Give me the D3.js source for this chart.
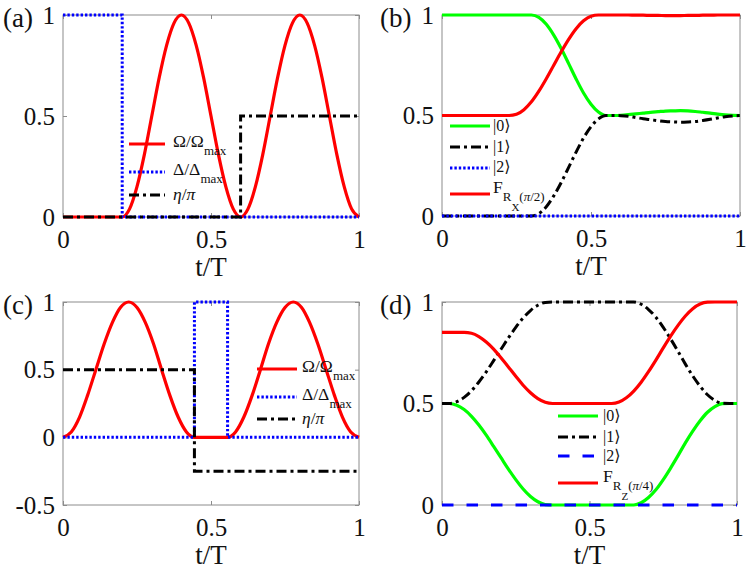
<!DOCTYPE html>
<html>
<head>
<meta charset="utf-8">
<script src="https://cdn.jsdelivr.net/npm/d3@7"></script>
<style>
body { margin: 0; background: #fff; }
svg text { font-family: "Liberation Serif", "Times New Roman", "DejaVu Serif", serif; }
</style>
</head>
<body>
<script>
(function(){

//time samples for the population panels (b) and (d)
var tGrid = [0,0.025,0.05,0.075,0.1,0.125,0.15,0.175,0.2,0.225,0.25,0.275,0.3,0.325,0.35,0.375,0.4,0.425,0.45,0.475,
    0.5,0.525,0.55,0.575,0.6,0.625,0.65,0.675,0.7,0.725,0.75,0.775,0.8,0.825,0.85,0.875,0.9,0.925,0.95,0.975,1];

//panel (a): pulse shapes
var tOmegaA = [0,0.2,0.225,0.25,0.275,0.3,0.325,0.35,0.375,0.4,0.425,0.45,0.475,0.5,0.525,0.55,0.575,0.6,
    0.625,0.65,0.675,0.7,0.725,0.75,0.775,0.8,0.825,0.85,0.875,0.9,0.925,0.95,0.975,1];
var omegaA = [0,0,0.04,0.15,0.31,0.5,0.69,0.85,0.96,1,0.96,0.85,0.69,0.5,0.31,0.15,0.04,0,
    0.04,0.15,0.31,0.5,0.69,0.85,0.96,1,0.96,0.85,0.69,0.5,0.31,0.15,0.04,0];
var tDeltaA = [0,0.2,0.2,1], deltaA = [1,1,0,0];
var tEtaA = [0,0.6,0.6,1], etaA = [0,0,0.5,0.5];

//panel (b): populations and fidelity for R_X(pi/2)
var pop0B = [1,1,1,1,1,1,1,1,1,1,1,1,1,0.988,0.954,0.9,0.833,0.758,0.682,0.612,0.556,0.517,0.5,0.5,
    0.501,0.504,0.508,0.512,0.516,0.519,0.522,0.523,0.524,0.523,0.52,0.516,0.512,0.507,0.503,0.501,0.5];
var pop1B = [0,0,0,0,0,0,0,0,0,0,0,0,0,0.012,0.046,0.1,0.167,0.242,0.318,0.388,0.444,0.483,0.5,0.5,
    0.499,0.496,0.49,0.484,0.479,0.474,0.47,0.468,0.467,0.468,0.47,0.475,0.481,0.488,0.494,0.498,0.5];
var fidB = [0.5,0.5,0.5,0.5,0.5,0.5,0.5,0.5,0.5,0.5,0.506,0.529,0.568,0.621,0.683,0.75,0.817,0.879,0.932,0.971,
    0.994,1,1,1,1,1,0.999,0.999,0.998,0.998,0.997,0.997,0.997,0.998,0.998,0.999,0.999,1,1,1,1];
var tFlat = [0,1], pop2 = [0,0];

//panel (c): pulse shapes
var tOmegaC = [0,0.028,0.056,0.083,0.111,0.139,0.167,0.194,0.222,0.25,0.278,0.306,0.333,0.361,0.389,0.417,0.444,
    0.556,0.583,0.611,0.639,0.667,0.694,0.722,0.75,0.778,0.806,0.833,0.861,0.889,0.917,0.944,0.972,1];
var omegaC = [0,0.04,0.15,0.31,0.5,0.69,0.85,0.96,1,0.96,0.85,0.69,0.5,0.31,0.15,0.04,0,
    0,0.04,0.15,0.31,0.5,0.69,0.85,0.96,1,0.96,0.85,0.69,0.5,0.31,0.15,0.04,0];
var tDeltaC = [0,0.444,0.444,0.556,0.556,1], deltaC = [0,0,1,1,0,0];
var tEtaC = [0,0.444,0.444,1], etaC = [0.5,0.5,-0.25,-0.25];

//panel (d): populations and fidelity for R_Z(pi/4)
var pop0D = [0.5,0.5,0.491,0.47,0.437,0.394,0.344,0.289,0.233,0.177,0.125,0.079,0.042,0.016,0.002,
    0,0,0,0,0,0,0,0,0,0,0,0,0.011,0.037,0.075,0.125,0.182,0.243,0.306,0.364,0.415,0.457,0.485,0.499,0.5,0.5];
var pop1D = [0.5,0.5,0.509,0.53,0.563,0.606,0.656,0.711,0.767,0.823,0.875,0.921,0.958,0.984,0.998,
    1,1,1,1,1,1,1,1,1,1,1,1,0.989,0.963,0.925,0.875,0.818,0.757,0.694,0.636,0.585,0.543,0.515,0.501,0.5,0.5];
var fidD = [0.85,0.85,0.85,0.85,0.846,0.83,0.803,0.768,0.725,0.68,0.634,0.59,0.553,0.524,0.506,
    0.5,0.5,0.5,0.5,0.5,0.5,0.5,0.5,0.5,0.507,0.528,0.561,0.605,0.657,0.714,0.774,0.832,0.885,0.931,0.967,0.99,0.999,1,1,1,1];

var xTicks = [0, 0.5, 1];
var yTicks = [0, 0.5, 1];
var yTicksC = [-0.5, 0, 0.5, 1];

var RED = "#ff0000", GREEN = "#00ff00", BLUE = "#0000ff", BLACK = "#000000";
var lineStyles = {
    solid: {w: 3.2, dash: null},
    dot: {w: 3, dash: "2.4,2"},
    dashdot: {w: 3, dash: "10,4,3,4"},
    dash: {w: 3, dash: "11.5,13"}
};
var FONT = "'Liberation Serif', 'Times New Roman', 'DejaVu Serif', serif";

function zip(t, v){
    return t.map(function(d, i){ return [d, v[i]]; });
}

var ket = "\u27E9";

var panels = [
    {name: "(a)", left: 63, top: 15, right: 359, bottom: 217, yDomain: [0, 1], yTicks: yTicks, labelX: 3,
        series: [
            {data: zip(tOmegaA, omegaA), color: RED, style: "solid", smooth: true},
            {data: zip(tDeltaA, deltaA), color: BLUE, style: "dot"},
            {data: zip(tEtaA, etaA), color: BLACK, style: "dashdot"}
        ],
        legend: {x0: 129, x1: 165, tx: 173, rows: [
            {y: 144, s: 0, base: 3, parts: [{t: "\u03A9/\u03A9"}, {t: "max", lvl: 1}]},
            {y: 172, s: 1, base: 3, parts: [{t: "\u0394/\u0394"}, {t: "max", lvl: 1}]},
            {y: 195, s: 2, base: 5, parts: [{t: "\u03B7", it: 1}, {t: "/"}, {t: "\u03C0", it: 1}]}
        ]}
    },
    {name: "(b)", left: 442, top: 15, right: 740, bottom: 216, yDomain: [0, 1], yTicks: yTicks, labelX: 380,
        series: [
            {data: zip(tGrid, pop0B), color: GREEN, style: "solid", smooth: true},
            {data: zip(tGrid, pop1B), color: BLACK, style: "dashdot", smooth: true},
            {data: zip(tFlat, pop2), color: BLUE, style: "dot"},
            {data: zip(tGrid, fidB), color: RED, style: "solid", smooth: true}
        ],
        legend: {x0: 450, x1: 490, tx: 493, rows: [
            {y: 126, s: 0, base: 5, parts: [{t: "|0" + ket, size: 16}]},
            {y: 147, s: 1, base: 5, parts: [{t: "|1" + ket, size: 16}]},
            {y: 168, s: 2, base: 4, parts: [{t: "|2" + ket, size: 16}]},
            {y: 194, s: 3, base: -1, parts: [{t: "F"}, {t: "R", lvl: 1}, {t: "X", lvl: 2}, {t: "(", lvl: 1},
                {t: "\u03C0", lvl: 1, it: 1}, {t: "/2)", lvl: 1}]}
        ]}
    },
    {name: "(c)", left: 63, top: 302, right: 359, bottom: 505, yDomain: [-0.5, 1], yTicks: yTicksC, labelX: 3,
        series: [
            {data: zip(tOmegaC, omegaC), color: RED, style: "solid", smooth: true},
            {data: zip(tDeltaC, deltaC), color: BLUE, style: "dot"},
            {data: zip(tEtaC, etaC), color: BLACK, style: "dashdot"}
        ],
        legend: {x0: 257, x1: 297, tx: 302, rows: [
            {y: 369, s: 0, base: 3, parts: [{t: "\u03A9/\u03A9"}, {t: "max", lvl: 1}]},
            {y: 397, s: 1, base: 3, parts: [{t: "\u0394/\u0394"}, {t: "max", lvl: 1}]},
            {y: 419, s: 2, base: 5, parts: [{t: "\u03B7", it: 1}, {t: "/"}, {t: "\u03C0", it: 1}]}
        ]}
    },
    {name: "(d)", left: 442, top: 302, right: 737, bottom: 505, yDomain: [0, 1], yTicks: yTicks, labelX: 380,
        series: [
            {data: zip(tGrid, pop0D), color: GREEN, style: "solid", smooth: true},
            {data: zip(tGrid, pop1D), color: BLACK, style: "dashdot", smooth: true},
            {data: zip(tFlat, pop2), color: BLUE, style: "dash"},
            {data: zip(tGrid, fidD), color: RED, style: "solid", smooth: true}
        ],
        legend: {x0: 558, x1: 598, tx: 603, rows: [
            {y: 416, s: 0, base: 5, parts: [{t: "|0" + ket, size: 16}]},
            {y: 437, s: 1, base: 5, parts: [{t: "|1" + ket, size: 16}]},
            {y: 456, s: 2, base: 4.5, parts: [{t: "|2" + ket, size: 16}]},
            {y: 483, s: 3, base: -1, parts: [{t: "F"}, {t: "R", lvl: 1}, {t: "Z", lvl: 2}, {t: "(", lvl: 1},
                {t: "\u03C0", lvl: 1, it: 1}, {t: "/4)", lvl: 1}]}
        ]}
    }
];

var levelSize = [17.5, 13, 11];
var levelShift = [0, 8, 18];

var svg = d3.select("body")
    .append("svg")
    .attr("width", 748)
    .attr("height", 571);

panels.forEach(drawPanel);

function drawPanel(p){
    var x = d3.scaleLinear().domain([0, 1]).range([p.left, p.right]);
    var y = d3.scaleLinear().domain(p.yDomain).range([p.bottom, p.top]);
    var g = svg.append("g");

    //inward ticks on all four sides
    var fmt = function(d){ return String(d); };
    var axB = g.append("g").attr("transform", "translate(0," + p.bottom + ")")
        .call(d3.axisBottom(x).tickValues(xTicks).tickFormat(fmt).tickSizeInner(-4).tickSizeOuter(0).tickPadding(13));
    var axL = g.append("g").attr("transform", "translate(" + p.left + ",0)")
        .call(d3.axisLeft(y).tickValues(p.yTicks).tickFormat(fmt).tickSizeInner(-4).tickSizeOuter(0).tickPadding(8));
    var axT = g.append("g").attr("transform", "translate(0," + p.top + ")")
        .call(d3.axisTop(x).tickValues(xTicks).tickFormat("").tickSizeInner(-4).tickSizeOuter(0));
    var axR = g.append("g").attr("transform", "translate(" + p.right + ",0)")
        .call(d3.axisRight(y).tickValues(p.yTicks).tickFormat("").tickSizeInner(-4).tickSizeOuter(0));

    [axB, axL, axT, axR].forEach(function(a){
        a.attr("font-family", null).attr("font-size", null);
        a.select(".domain").remove();
        a.selectAll(".tick line").attr("stroke", "#8c8c8c");
        a.selectAll("text")
            .attr("fill", "#111")
            .attr("font-family", FONT)
            .attr("font-size", 25);
    });

    //axes box
    g.append("rect")
        .attr("x", p.left).attr("y", p.top)
        .attr("width", p.right - p.left).attr("height", p.bottom - p.top)
        .attr("fill", "none").attr("stroke", "#8c8c8c").attr("stroke-width", 1);

    //data lines
    p.series.forEach(function(s){
        var line = d3.line()
            .x(function(d){ return x(d[0]); })
            .y(function(d){ return y(d[1]); })
            .curve(s.smooth ? d3.curveMonotoneX : d3.curveLinear);
        var st = lineStyles[s.style];
        g.append("path")
            .datum(s.data)
            .attr("d", line)
            .attr("fill", "none")
            .attr("stroke", s.color)
            .attr("stroke-width", st.w)
            .attr("stroke-dasharray", st.dash);
    });

    //legend (no frame)
    var lg = p.legend;
    lg.rows.forEach(function(r){
        var s = p.series[r.s], st = lineStyles[s.style];
        g.append("line")
            .attr("x1", lg.x0).attr("x2", lg.x1)
            .attr("y1", r.y).attr("y2", r.y)
            .attr("stroke", s.color)
            .attr("stroke-width", st.w)
            .attr("stroke-dasharray", st.dash);
        var text = g.append("text")
            .attr("x", lg.tx)
            .attr("y", r.y + r.base)
            .attr("font-family", FONT)
            .attr("fill", "#111");
        r.parts.forEach(function(pt){
            var lvl = pt.lvl || 0;
            var ts = text.append("tspan")
                .attr("y", r.y + r.base + levelShift[lvl])
                .attr("font-size", pt.size || levelSize[lvl])
                .text(pt.t);
            if (pt.it) ts.attr("font-style", "italic");
        });
    });

    //x label and panel tag
    g.append("text")
        .attr("x", (p.left + p.right) / 2)
        .attr("y", p.bottom + 59)
        .attr("text-anchor", "middle")
        .attr("font-family", FONT)
        .attr("font-size", 27)
        .attr("fill", "#111")
        .text("t/T");

    g.append("text")
        .attr("x", p.labelX)
        .attr("y", p.top + 12)
        .attr("font-family", FONT)
        .attr("font-size", 27)
        .attr("fill", "#111")
        .text(p.name);
}

})();
</script>
</body>
</html>
